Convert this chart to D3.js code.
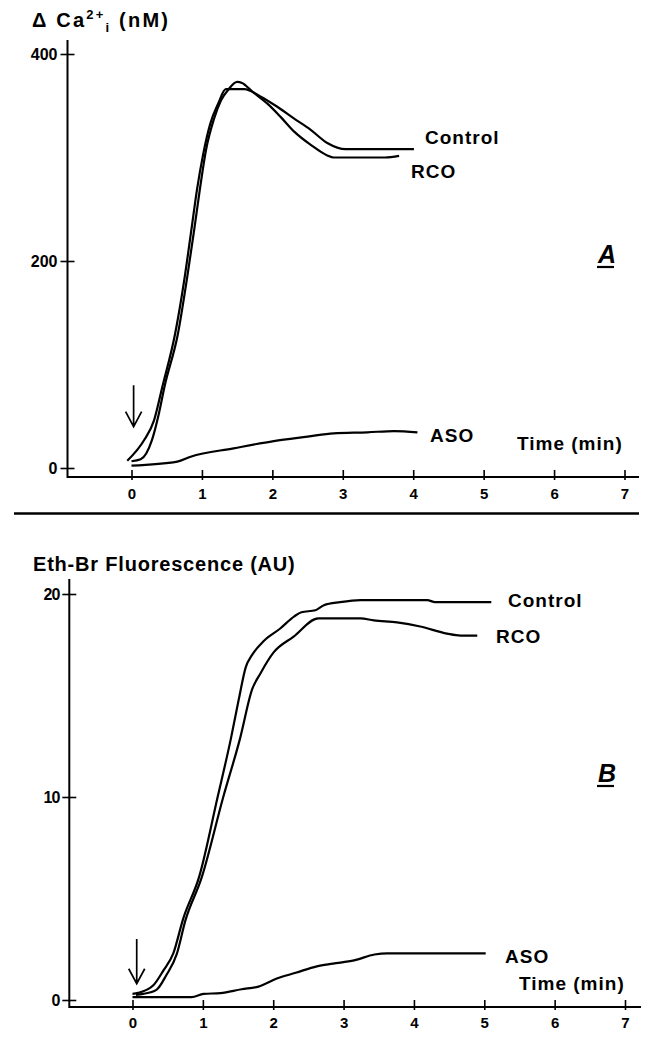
<!DOCTYPE html>
<html><head><meta charset="utf-8">
<script src="https://cdn.jsdelivr.net/npm/d3@7"></script>
<style>
body{margin:0;background:#fff;}
svg{display:block;}
text{font-family:"Liberation Sans",Arial,Helvetica,sans-serif;font-weight:bold;fill:#000;}
</style></head>
<body>
<script>
// ---- data ----
const xTicks = [0,1,2,3,4,5,6,7];
const yTicksA = [0,200,400];
const yTicksB = [0,10,20];

const ctrlA_t = [-0.06,0.18,0.32,0.44,0.62,0.75,0.85,0.93,1.02,1.12,1.23,1.34,1.6,1.83,2.07,2.3,2.54,2.78,3.04,4.01];
const ctrlA_v = [7,27,46,79,130,182,230,269,304,333,352,366,366,359,349,338,327,314,308,308];
const rcoA_t = [0,0.13,0.29,0.39,0.47,0.66,0.79,0.89,0.97,1.06,1.17,1.27,1.38,1.5,1.57,1.71,1.93,2.12,2.31,2.55,2.78,2.87,3.6,3.8];
const rcoA_v = [6.5,8.4,27,53,79,130,184,230,269,308,337,355,366,373,372,364,352,339,325,312,302,300,300,301.5];
const asoA_t = [0,0.65,0.84,1.45,2.02,2.5,2.87,3.35,3.73,4.06];
const asoA_v = [2.2,6.1,10.9,19,26,30.3,33.5,34.5,35.7,34.5];

const ctrlB_t = [0,0.08,0.3,0.44,0.58,0.72,0.95,1.21,1.4,1.51,1.61,1.7,1.87,2.1,2.3,2.4,2.6,2.72,2.95,3.24,4.19,4.3,5.1];
const ctrlB_v = [0.3,0.35,0.74,1.46,2.3,4.0,6.1,10,12.9,14.8,16.4,17.0,17.7,18.3,18.9,19.1,19.2,19.45,19.6,19.7,19.7,19.6,19.6];
const rcoB_t = [0.05,0.15,0.34,0.48,0.63,0.75,0.98,1.29,1.53,1.7,1.82,2.0,2.29,2.64,3.24,3.43,3.76,4.09,4.47,4.66,4.9];
const rcoB_v = [0.25,0.3,0.5,1.22,2.27,3.9,6.0,10,12.9,15.3,16.1,17.1,17.9,18.8,18.8,18.7,18.6,18.4,18.05,17.95,17.95];
const asoB_t = [0,0.84,1.01,1.25,1.55,1.79,2.05,2.32,2.62,2.85,3.15,3.44,3.62,5.02];
const asoB_v = [0.14,0.14,0.3,0.34,0.53,0.66,1.06,1.34,1.66,1.79,1.95,2.24,2.3,2.3];

// arrow (time, value top, value tip)
const arrowA = [0.03, 80, 40];
const arrowB = [0.06, 3.0, 0.8];

// ---- drawing ----
const W = 653, H = 1038;
const svg = d3.select("body").append("svg").attr("width", W).attr("height", H);

const zip = (t, v) => t.map((d, i) => [d, v[i]]);

function panel(cfg) {
  const x = d3.scaleLinear().domain([0, 7]).range(cfg.xr);
  const y = d3.scaleLinear().domain(cfg.yd).range(cfg.yr);
  const g = svg.append("g");

  // y axis
  const ya = d3.axisLeft(y).tickValues(cfg.yTicks).tickSize(7).tickPadding(4).tickFormat(d3.format("d"));
  const yg = g.append("g").attr("transform", `translate(${cfg.ax},0)`).call(ya);
  yg.select(".domain").remove();
  yg.selectAll(".tick line").attr("x1", 7).attr("x2", -7).attr("stroke", "#000").attr("stroke-width", 1.6);
  yg.selectAll(".tick text").attr("x", -10).attr("dy", "0.36em")
    .style("font-size", "16px").style("letter-spacing", cfg.yls);
  g.append("line").attr("x1", cfg.ax).attr("x2", cfg.ax).attr("y1", cfg.axTop).attr("y2", cfg.xAxisY + 1)
    .attr("stroke", "#000").attr("stroke-width", 2);

  // x axis
  const xa = d3.axisBottom(x).tickValues(xTicks).tickSize(0).tickPadding(0).tickFormat(d3.format("d"));
  const xg = g.append("g").attr("transform", `translate(0,${cfg.xAxisY})`).call(xa);
  xg.select(".domain").remove();
  xg.selectAll(".tick line").attr("y1", -7).attr("y2", 3).attr("stroke", "#000").attr("stroke-width", 1.6);
  xg.selectAll(".tick text").attr("y", cfg.xLabDy).attr("dy", 0).style("font-size", "15px");
  g.append("line").attr("x1", cfg.ax).attr("x2", cfg.xEnd).attr("y1", cfg.xAxisY).attr("y2", cfg.xAxisY)
    .attr("stroke", "#000").attr("stroke-width", 2.2);

  // curves
  const line = d3.line().x(d => x(d[0])).y(d => y(d[1])).curve(d3.curveMonotoneX);
  cfg.series.forEach(s => {
    g.append("path").attr("d", line(s)).attr("fill", "none").attr("stroke", "#000")
      .attr("stroke-width", 2.2).attr("stroke-linejoin", "round");
  });

  // arrow
  const [at, av0, av1] = cfg.arrow;
  const axp = x(at), y0 = y(av0), y1 = y(av1);
  g.append("path").attr("d", `M${axp},${y0}L${axp},${y1}M${axp - 8},${y1 - 15}L${axp},${y1}L${axp + 8},${y1 - 15}`)
    .attr("fill", "none").attr("stroke", "#000").attr("stroke-width", 1.7);

  // texts
  cfg.labels.forEach(l => {
    g.append("text").attr("x", l[1]).attr("y", l[2]).text(l[0])
      .style("font-size", "19px").style("letter-spacing", "1px");
  });
  g.append("text").attr("x", cfg.letter[1]).attr("y", cfg.letter[2]).text(cfg.letter[0])
    .style("font-size", "25px").style("font-style", "italic");
  g.append("line").attr("x1", cfg.letter[1] - 1).attr("x2", cfg.letter[1] + 16)
    .attr("y1", cfg.letter[2] + 4).attr("y2", cfg.letter[2] + 4).attr("stroke", "#000").attr("stroke-width", 2.2);
  return g;
}

const gA = panel({
  xr: [131.5, 624.5], yd: [0, 400], yr: [468, 54], yTicks: yTicksA, yls: "0px",
  ax: 67.5, axTop: 40, xAxisY: 477, xEnd: 639, xLabDy: 22,
  series: [zip(ctrlA_t, ctrlA_v), zip(rcoA_t, rcoA_v), zip(asoA_t, asoA_v)],
  arrow: arrowA,
  labels: [["Control", 425, 144], ["RCO", 411, 178], ["ASO", 430, 442], ["Time (min)", 517, 450]],
  letter: ["A", 598, 263]
});
// title A
const tA = gA.append("text").attr("x", 32).attr("y", 27).style("font-size", "20px").style("letter-spacing", "2.2px");
tA.append("tspan").text("\u0394 Ca");
tA.append("tspan").text("2+").attr("dy", -8).style("font-size", "13px");
tA.append("tspan").text("i").attr("dy", 13).style("font-size", "13px");
tA.append("tspan").text(" (nM)").attr("dy", -5);

// separator
svg.append("line").attr("x1", 14).attr("x2", 639).attr("y1", 513.5).attr("y2", 513.5)
  .attr("stroke", "#000").attr("stroke-width", 2.5);

const gB = panel({
  xr: [132.5, 625], yd: [0, 20], yr: [1000, 594], yTicks: yTicksB, yls: "-1px",
  ax: 69.3, axTop: 579, xAxisY: 1007, xEnd: 641, xLabDy: 21,
  series: [zip(ctrlB_t, ctrlB_v), zip(rcoB_t, rcoB_v), zip(asoB_t, asoB_v)],
  arrow: arrowB,
  labels: [["Control", 508, 607], ["RCO", 496, 643], ["ASO", 505, 963], ["Time (min)", 519, 990]],
  letter: ["B", 598, 782]
});
gB.append("text").attr("x", 33).attr("y", 571).text("Eth-Br Fluorescence (AU)")
  .style("font-size", "20px").style("letter-spacing", "0.8px");
</script>
</body></html>
